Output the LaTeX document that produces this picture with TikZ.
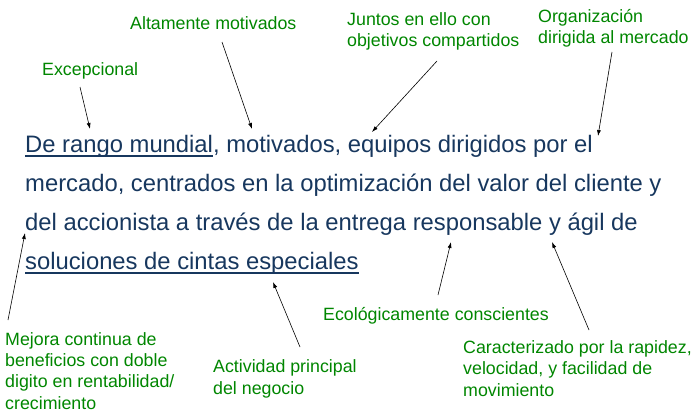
\documentclass[tikz,border=0pt]{standalone}
\usepackage{fontspec}
\setmainfont{Liberation Sans}
\usepackage{xcolor}
\usepackage{tikz}
\usetikzlibrary{arrows.meta}
\definecolor{misionblue}{RGB}{23,55,94}
\definecolor{notagreen}{RGB}{0,134,0}
\newsavebox{\subrayadobox}
\newcommand{\subrayar}[1]{\sbox{\subrayadobox}{#1}\rlap{\rule[-4.5pt]{\wd\subrayadobox}{1.8pt}}\usebox{\subrayadobox}}

\begin{document}
\begin{tikzpicture}[x=1pt,y=1pt,
  mision/.style={anchor=base west,inner sep=0pt,text=misionblue,font=\fontsize{23.8}{28}\selectfont},
  nota/.style={anchor=base west,inner sep=0pt,text=notagreen,align=left,font=\fontsize{17.8}{21.3}\selectfont},
  flecha/.style={-{Latex[length=6pt,width=4pt]},draw=black,line width=.6pt}]

\path[use as bounding box] (0,0) rectangle (696,-415);
\node[mision] (linea1) at (25,-152) {\subrayar{De rango mundial}, motivados, equipos dirigidos por el};
\node[mision] (linea2) at (25,-191) {mercado, centrados en la optimización del valor del cliente y};
\node[mision] (linea3) at (25,-230) {del accionista a través de la entrega responsable y ágil de};
\node[mision] (linea4) at (25,-269) {\subrayar{soluciones de cintas especiales}};

% multi-line notes sit on the baseline of their last line
\node[nota] (excepcional) at (42,-75) {Excepcional};
\node[nota] (altamente) at (130,-29) {Altamente motivados};
\node[nota] (juntos) at (347,-46.5) {Juntos en ello con\\objetivos compartidos};
\node[nota] (organizacion) at (538,-43.5) {Organización\\dirigida al mercado};
\node[nota] (mejora) at (5,-409) {Mejora continua de\\beneficios con doble\\digito en rentabilidad/\\crecimiento};
\node[nota] (actividad) at (213,-394) {Actividad principal\\del negocio};
\node[nota] (ecologica) at (323,-320) {Ecológicamente conscientes};
\node[nota] (caracterizado) at (463,-396) {Caracterizado por la rapidez,\\velocidad, y facilidad de\\movimiento};

\coordinate (excepcional-a) at (80,-87);
\coordinate (excepcional-b) at (90,-129);
\coordinate (altamente-a) at (222,-42);
\coordinate (altamente-b) at (252,-129);
\coordinate (juntos-a) at (437,-61);
\coordinate (juntos-b) at (372,-132);
\coordinate (organizacion-a) at (612,-52);
\coordinate (organizacion-b) at (598,-136);
\coordinate (mejora-a) at (8,-320);
\coordinate (mejora-b) at (25,-233);
\coordinate (actividad-a) at (300,-347);
\coordinate (actividad-b) at (273,-282);
\coordinate (ecologica-a) at (438,-295);
\coordinate (ecologica-b) at (451,-242);
\coordinate (caracterizado-a) at (589,-330);
\coordinate (caracterizado-b) at (552,-242);

\draw[flecha] (excepcional-a)--(excepcional-b);
\draw[flecha] (altamente-a)--(altamente-b);
\draw[flecha] (juntos-a)--(juntos-b);
\draw[flecha] (organizacion-a)--(organizacion-b);
\draw[flecha] (mejora-a)--(mejora-b);
\draw[flecha] (actividad-a)--(actividad-b);
\draw[flecha] (ecologica-a)--(ecologica-b);
\draw[flecha] (caracterizado-a)--(caracterizado-b);

\end{tikzpicture}
\end{document}
